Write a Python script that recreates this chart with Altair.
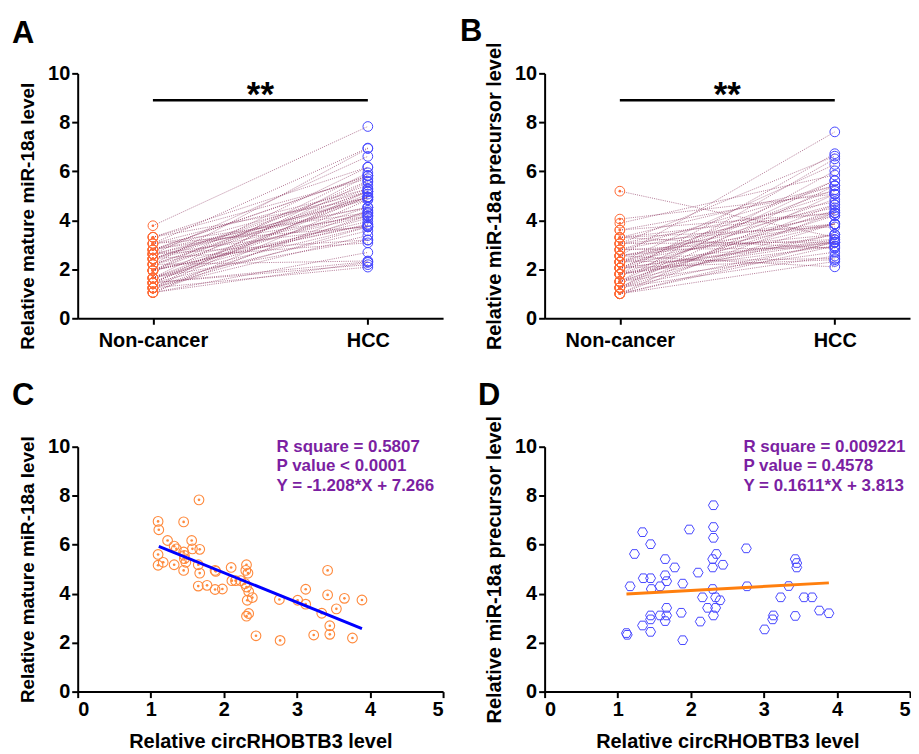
import altair as alt
import pandas as pd

FONT = "Liberation Sans"

groups = ["Non-cancer", "HCC"]

# Panel A: paired values (mature miR-18a)
a_hcc = [7.83, 6.95, 6.61, 6.93, 6.17, 6.17, 5.94, 5.83, 5.70, 5.56, 5.43, 5.83, 5.81, 5.60,
         5.28, 5.16, 5.18, 5.28, 4.95, 5.18, 4.84, 4.95, 4.91, 5.07, 5.18, 4.84, 4.95, 4.31,
         4.34, 4.17, 4.19, 4.53, 4.53, 4.53, 4.41, 4.27, 4.09, 3.84, 3.73, 3.19, 3.08, 2.28,
         3.76, 2.09, 3.73, 4.18, 3.57, 3.20, 2.31, 4.95, 3.95, 2.69, 2.34, 3.38, 3.81, 3.74, 2.19]
a_nc = [3.78, 3.05, 2.62, 2.20, 3.31, 1.95, 1.65, 2.80, 3.31, 1.45, 2.43, 1.24, 2.80, 1.95,
        3.05, 2.20, 1.24, 2.43, 1.65, 2.80, 1.05, 2.20, 3.31, 1.45, 1.95, 2.62, 1.45, 3.05,
        1.95, 2.20, 1.24, 2.62, 1.65, 2.80, 1.05, 2.43, 1.65, 1.95, 1.24, 1.65, 2.43, 1.05,
        2.62, 1.24, 3.05, 2.80, 1.45, 2.62, 1.45, 2.43, 1.95, 1.05, 2.20, 1.24, 1.95, 1.65, 1.45]

# Panel B: paired values (miR-18a precursor)
b_hcc = [7.61, 6.51, 6.62, 6.72, 6.28, 6.02, 5.85, 5.62, 5.62, 5.41, 5.41, 5.41, 5.25, 5.18,
         5.07, 5.07, 5.07, 4.86, 4.75, 4.63, 4.63, 4.51, 4.41, 4.30, 4.30, 4.19, 4.19, 4.30,
         4.31, 3.85, 3.85, 3.73, 3.85, 3.85, 3.85, 3.42, 3.42, 3.42, 3.22, 3.11, 3.11, 3.11,
         3.11, 3.11, 3.09, 3.31, 3.20, 2.95, 2.88, 2.95, 2.86, 2.70, 2.44, 2.54, 2.39, 2.32, 2.10]
b_nc = [2.55, 1.50, 3.05, 1.80, 2.30, 1.25, 3.88, 2.05, 1.50, 3.30, 1.25, 2.80, 2.05, 3.60,
        1.00, 2.30, 4.05, 1.80, 3.05, 2.30, 1.25, 2.80, 1.50, 3.60, 2.05, 1.50, 2.55, 3.30,
        1.00, 2.30, 1.80, 3.30, 2.55, 1.25, 3.05, 1.80, 2.55, 1.50, 2.80, 1.00, 2.05, 3.05,
        1.80, 2.30, 1.25, 5.19, 2.05, 1.00, 2.80, 1.80, 3.30, 1.50, 2.30, 1.25, 2.05, 1.00, 2.55]

# Panel C: circRHOBTB3 vs mature miR-18a
c_x = [1.66, 1.10, 1.11, 1.45, 1.23, 1.56, 1.32, 1.35, 1.45, 1.46, 1.46, 1.57, 1.67, 1.10,
       1.17, 1.10, 1.32, 1.48, 1.45, 1.65, 1.67, 1.88, 1.89, 2.10, 2.31, 2.33, 2.30, 1.65,
       1.77, 1.88, 1.98, 2.11, 2.16, 2.23, 2.29, 2.31, 2.34, 2.39, 2.32, 2.34, 2.31, 2.44,
       2.76, 2.77, 3.01, 3.12, 3.12, 3.34, 3.23, 3.42, 3.42, 3.45, 3.45, 3.54, 3.65, 3.89, 3.76]
c_y = [7.83, 6.95, 6.61, 6.93, 6.17, 6.17, 5.94, 5.83, 5.70, 5.56, 5.43, 5.83, 5.81, 5.60,
       5.28, 5.16, 5.18, 5.28, 4.95, 5.18, 4.84, 4.95, 4.91, 5.07, 5.18, 4.84, 4.95, 4.31,
       4.34, 4.17, 4.19, 4.53, 4.53, 4.53, 4.41, 4.27, 4.09, 3.84, 3.73, 3.19, 3.08, 2.28,
       3.76, 2.09, 3.73, 4.18, 3.57, 3.20, 2.31, 4.95, 3.95, 2.69, 2.34, 3.38, 3.81, 3.74, 2.19]
c_fit_x = [1.11, 3.89]
c_fit_y = [5.93, 2.57]
c_stats = ["R square = 0.5807", "P value < 0.0001", "Y = -1.208*X + 7.266"]

# Panel D: circRHOBTB3 vs miR-18a precursor
d_x = [2.31, 1.34, 1.98, 2.31, 2.31, 1.45, 2.76, 1.23, 2.35, 1.65, 2.30, 3.43, 3.45, 2.44,
       2.30, 1.78, 3.45, 2.10, 1.65, 1.35, 1.45, 1.67, 1.89, 1.58, 1.17, 1.46, 2.30, 2.77,
       3.34, 2.16, 2.34, 2.40, 3.23, 3.55, 3.66, 1.67, 2.23, 2.34, 1.87, 1.45, 1.58, 1.67,
       2.31, 3.13, 3.43, 3.76, 3.89, 1.45, 1.65, 3.12, 2.13, 1.34, 1.45, 3.01, 1.12, 1.13, 1.89]
d_y = [7.61, 6.51, 6.62, 6.72, 6.28, 6.02, 5.85, 5.62, 5.62, 5.41, 5.41, 5.41, 5.25, 5.18,
       5.07, 5.07, 5.07, 4.86, 4.75, 4.63, 4.63, 4.51, 4.41, 4.30, 4.30, 4.19, 4.19, 4.30,
       4.31, 3.85, 3.85, 3.73, 3.85, 3.85, 3.85, 3.42, 3.42, 3.42, 3.22, 3.11, 3.11, 3.11,
       3.11, 3.11, 3.09, 3.31, 3.20, 2.95, 2.88, 2.95, 2.86, 2.70, 2.44, 2.54, 2.39, 2.32, 2.10]
d_fit_x = [1.12, 3.89]
d_fit_y = [3.99, 4.44]
d_stats = ["R square = 0.009221", "P value = 0.4578", "Y = 0.1611*X + 3.813"]

stats_y = [10.0, 9.2, 8.4]
stats_x = 2.72
y_ticks = [0, 2, 4, 6, 8, 10]
x_ticks = [0, 1, 2, 3, 4, 5]
sig_y = 8.9
sig_text = "**"

W, H = 367, 246
ORANGE_A = "#FF6A35"
ORANGE_C = "#FF8A3D"
BLUE = "#4747FF"
LINE_COL = "#8E3A63"
PURPLE = "#7B1FA2"


def letter_layer(letter, dx, dy):
    return alt.Chart(pd.DataFrame({"t": [letter]})).mark_text(
        font=FONT, fontSize=31, fontWeight="bold", color="black",
        align="left", baseline="alphabetic"
    ).encode(x=alt.value(dx), y=alt.value(dy), text="t:N")


def yaxis(title, tsize, ty=None):
    kw = dict(values=y_ticks, title=title, grid=False, titleFontSize=tsize)
    if ty is not None:
        kw["titleY"] = ty
    return alt.Axis(**kw)


def paired(nc, hcc, ytitle, tsize, ty, letter, ldx, ldy):
    rows = []
    for i in range(len(nc)):
        rows.append({"pair": i, "g": 0, "v": nc[i]})
        rows.append({"pair": i, "g": 1, "v": hcc[i]})
    df = pd.DataFrame(rows)
    xenc = alt.X("g:Q", scale=alt.Scale(domain=[-0.35, 1.35], nice=False, zero=False),
                 axis=alt.Axis(values=[0, 1], labelExpr=f"{groups}[datum.value]",
                               title=None, grid=False, labelPadding=6))
    yenc = alt.Y("v:Q", scale=alt.Scale(domain=[0, 10], nice=False), axis=yaxis(ytitle, tsize, ty))
    base = alt.Chart(df)
    lines = base.mark_line(color=LINE_COL, strokeWidth=0.8, strokeDash=[1, 1.2], opacity=0.85).encode(
        x=xenc, y=yenc, detail="pair:N")
    nc_pts = base.transform_filter("datum.g == 0").mark_point(
        shape="circle", filled=False, size=95, strokeWidth=1.0, color=ORANGE_A, opacity=1
    ).encode(x=xenc, y=yenc)
    nc_dots = base.transform_filter("datum.g == 0").mark_point(
        shape="circle", filled=True, size=7, color=ORANGE_A, opacity=1
    ).encode(x=xenc, y=yenc)
    hcc_pts = base.transform_filter("datum.g == 1").mark_point(
        shape="circle", filled=False, size=95, strokeWidth=1.0, color=BLUE, opacity=1
    ).encode(x=xenc, y=yenc)
    sig = pd.DataFrame({"x": [0], "x2": [1], "y": [sig_y], "xm": [0.5], "t": [sig_text]})
    bar = alt.Chart(sig).mark_rule(color="black", strokeWidth=2.5).encode(
        x=alt.X("x:Q"), x2="x2:Q", y=alt.Y("y:Q"))
    stars = alt.Chart(sig).mark_text(font=FONT, fontSize=35, fontWeight="bold", color="black",
                                     baseline="alphabetic", dy=6).encode(
        x=alt.X("xm:Q"), y=alt.Y("y:Q"), text="t:N")
    return alt.layer(lines, nc_pts, nc_dots, hcc_pts, bar, stars,
                     letter_layer(letter, ldx, ldy)).properties(width=W, height=H)


def scatter(xs, ys, fx, fy, stats, ytitle, tsize, letter, ldx, ldy, kind):
    df = pd.DataFrame({"x": xs, "y": ys})
    xenc = alt.X("x:Q", scale=alt.Scale(domain=[0, 5], nice=False),
                 axis=alt.Axis(values=x_ticks, format="d", title="Relative circRHOBTB3 level",
                               grid=False, titlePadding=12, titleFontSize=20))
    yenc = alt.Y("y:Q", scale=alt.Scale(domain=[0, 10], nice=False), axis=yaxis(ytitle, tsize))
    base = alt.Chart(df)
    if kind == "c":
        pts = base.mark_point(shape="circle", filled=False, size=95, strokeWidth=1.1,
                              color=ORANGE_C, opacity=1).encode(x=xenc, y=yenc)
        dots = base.mark_point(shape="circle", filled=True, size=7, color=ORANGE_C,
                               opacity=1).encode(x=xenc, y=yenc)
        marks = [pts, dots]
        fit_col = "#0000FF"
    else:
        hexpath = "M -1 0 L -0.5 -0.866 L 0.5 -0.866 L 1 0 L 0.5 0.866 L -0.5 0.866 Z"
        pts = base.mark_point(shape=hexpath, filled=False, size=100, strokeWidth=1.0,
                              color=BLUE, opacity=1).encode(x=xenc, y=yenc)
        marks = [pts]
        fit_col = "#FF7F0E"
    fit = alt.Chart(pd.DataFrame({"x": fx, "y": fy})).mark_line(
        color=fit_col, strokeWidth=3).encode(x="x:Q", y="y:Q")
    st = alt.Chart(pd.DataFrame({"t": stats, "y": stats_y, "x": [stats_x] * 3})).mark_text(
        font=FONT, fontSize=17, fontWeight="bold", color=PURPLE, align="left", baseline="middle"
    ).encode(x="x:Q", y="y:Q", text="t:N")
    return alt.layer(*marks, fit, st, letter_layer(letter, ldx, ldy)).properties(width=W, height=H)


A = paired(a_nc, a_hcc, "Relative mature miR-18a level", 19, 143, "A", -66, -30)
B = paired(b_nc, b_hcc, "Relative miR-18a precursor level", 20, None, "B", -85, -33)
C = scatter(c_x, c_y, c_fit_x, c_fit_y, c_stats, "Relative mature miR-18a level", 19, "C", -66, -42, "c")
D = scatter(d_x, d_y, d_fit_x, d_fit_y, d_stats, "Relative miR-18a precursor level", 20, "D", -67, -42, "d")

chart = alt.concat(A, B, C, D, columns=2, spacing={"row": 30, "column": 16}).properties(
    padding={"left": 4, "top": 6, "right": 0, "bottom": 0}
).configure_view(stroke=None).configure_axis(
    domainColor="black", domainWidth=2, tickColor="black", tickWidth=2, tickSize=6,
    labelFont=FONT, labelFontSize=20, labelFontWeight="bold", labelColor="black",
    labelPadding=2, titleFont=FONT, titleFontSize=19, titleFontWeight="bold",
    titleColor="black", titlePadding=10, labelAngle=0
)

chart.save("out.html", embed_options={"renderer": "svg", "actions": False})
